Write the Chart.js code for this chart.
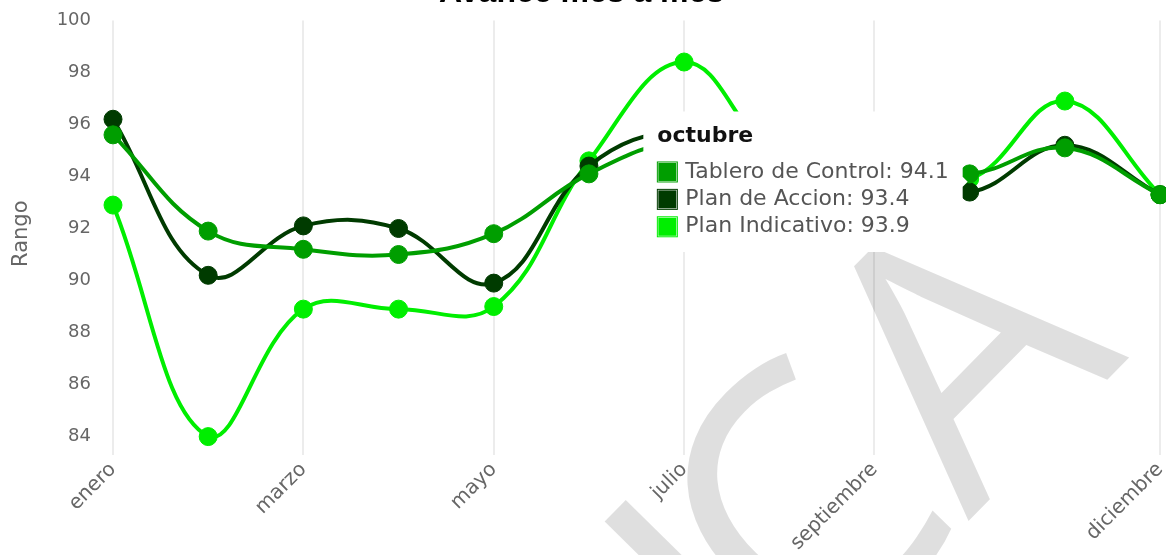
<!DOCTYPE html>
<html>
<head>
<meta charset="utf-8">
<script src="https://cdn.jsdelivr.net/npm/chart.js@4.4.1/dist/chart.umd.min.js"></script>
<style>
  html, body { margin: 0; padding: 0; background: #fff; overflow: hidden; }
  #wrap { position: absolute; left: 0; top: -32px; width: 1180px; height: 599px; }
</style>
</head>
<body>
<div id="wrap"><canvas id="avance" width="1180" height="599"></canvas></div>
<script>
// Data
const months = ['enero', 'febrero', 'marzo', 'abril', 'mayo', 'junio', 'julio',
                'agosto', 'septiembre', 'octubre', 'noviembre', 'diciembre'];
const shownMonths = [0, 2, 4, 6, 8, 11];

const tableroControl = [95.6, 91.9, 91.2, 91.0, 91.8, 94.1, 95.4, 95.0, 94.5, 94.1, 95.1, 93.3];
const planAccion     = [96.2, 90.2, 92.1, 92.0, 89.9, 94.4, 95.8, 95.1, 94.2, 93.4, 95.2, 93.3];
const planIndicativo = [92.9, 84.0, 88.9, 88.9, 89.0, 94.6, 98.4, 94.7, 94.4, 93.9, 96.9, 93.3];

const yTicks = { min: 83.6, max: 100, step: 2 };

const colors = {
    tablero: '#009e00',
    accion: '#003b00',
    indicativo: '#00ee00'
};

const FONT = "'DejaVu Sans', sans-serif";

// Watermark letters over the axes, below the tooltip
const watermarkLetters = ['I', 'C', 'A'];
const watermarkPos = [67, 196, 422];

const watermark = {
    id: 'watermark',
    afterDatasetsDraw(chart) {
        const ctx = chart.ctx;
        ctx.save();
        ctx.translate(0, 32);
        ctx.rotate(-45.5 * Math.PI / 180);
        ctx.font = "363px 'Open Sans', sans-serif";
        ctx.fillStyle = 'rgba(0, 0, 0, 0.125)';
        ctx.textAlign = 'center';
        ctx.textBaseline = 'alphabetic';
        watermarkLetters.forEach((ch, i) => ctx.fillText(ch, watermarkPos[i], 1056));
        ctx.restore();
    }
};

function makeDataset(label, data, color) {
    return {
        label: label,
        data: data,
        borderColor: color,
        backgroundColor: color,
        pointBackgroundColor: color,
        pointBorderColor: color,
        borderWidth: 4,
        pointRadius: 9,
        pointBorderWidth: 1,
        tension: 0.4,
        fill: false
    };
}

const ctx = document.getElementById('avance');
const chart = new Chart(ctx, {
    type: 'line',
    data: {
        labels: months,
        datasets: [
            makeDataset('Tablero de Control', tableroControl, colors.tablero),
            makeDataset('Plan de Accion', planAccion, colors.accion),
            makeDataset('Plan Indicativo', planIndicativo, colors.indicativo)
        ]
    },
    options: {
        responsive: false,
        animation: false,
        layout: { padding: { left: 0, right: 17, top: 0, bottom: 0 } },
        interaction: { mode: 'index', intersect: false },
        plugins: {
            legend: { display: false },
            title: {
                display: true,
                text: 'Avance mes a mes',
                color: '#000',
                font: { family: "'Liberation Sans', Arial, sans-serif", size: 32, weight: 'bold' },
                padding: { top: 6, bottom: 8 }
            },
            tooltip: {
                backgroundColor: '#fff',
                titleColor: '#111',
                bodyColor: '#555',
                titleFont: { family: FONT, size: 22, weight: 'bold' },
                bodyFont: { family: FONT, size: 22 },
                padding: { top: 12, bottom: 12, left: 14, right: 14 },
                titleMarginBottom: 9,
                bodySpacing: 1,
                boxWidth: 20,
                boxHeight: 20,
                boxPadding: 6,
                caretSize: 5,
                cornerRadius: 4
            }
        },
        scales: {
            x: {
                afterFit: s => { s.height = 120; },
                grid: {
                    display: true,
                    drawTicks: true,
                    tickLength: 8,
                    lineWidth: 2,
                    color: c => shownMonths.includes(c.index) ? '#ececec' : 'rgba(0,0,0,0)'
                },
                border: { display: false },
                ticks: {
                    autoSkip: false,
                    maxRotation: 45,
                    minRotation: 45,
                    padding: 3,
                    color: '#666',
                    font: { family: FONT, size: 20 },
                    callback: (v, i) => shownMonths.includes(i) ? months[i] : ''
                }
            },
            y: {
                min: yTicks.min,
                max: yTicks.max,
                afterFit: s => { s.width = 113; },
                grid: { display: false, drawTicks: false },
                border: { display: false },
                title: {
                    display: true,
                    text: 'Rango',
                    color: '#666',
                    font: { family: FONT, size: 21 },
                    padding: { top: 9, bottom: 0 }
                },
                ticks: {
                    stepSize: yTicks.step,
                    includeBounds: false,
                    padding: 22,
                    color: '#666',
                    font: { family: FONT, size: 18 }
                }
            }
        }
    },
    plugins: [watermark]
});

// show the tooltip for octubre like in the reference
const idx = 9;
const active = chart.data.datasets.map((d, i) => ({ datasetIndex: i, index: idx }));
const pt = chart.getDatasetMeta(0).data[idx];
chart.tooltip.setActiveElements(active, { x: pt.x, y: pt.y });
chart.update();
</script>
</body>
</html>
